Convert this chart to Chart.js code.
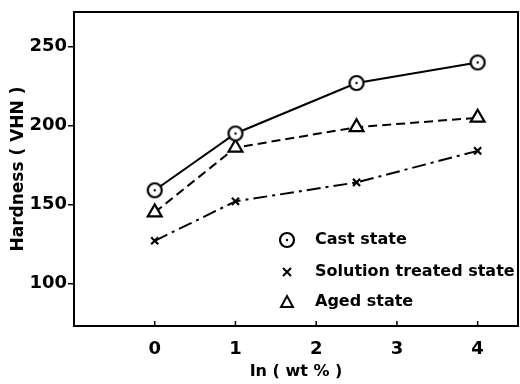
<!DOCTYPE html>
<html>
<head>
<meta charset="utf-8">
<script src="https://cdn.jsdelivr.net/npm/chart.js@4.4.1/dist/chart.umd.min.js"></script>
<style>
  html, body { margin: 0; padding: 0; background: #fff; overflow: hidden; }
  #wrap { width: 520px; height: 384px; }
</style>
</head>
<body>
<div id="wrap"><canvas id="grafico" width="520" height="384"></canvas></div>
<script>
// dados
const teorIn = [0, 1, 2.5, 4];
const castState = [159, 195, 227, 240];
const solutionState = [127, 152, 164, 184];
const agedState = [145, 186, 199, 205];
const ticksX = [0, 1, 2, 3, 4];
const ticksY = [100, 150, 200, 250];
const nomes = ['Cast state', 'Solution treated state', 'Aged state'];

const fonte = "'DejaVu Sans', sans-serif";

// circulo com ponto no centro
function circuloPonto() {
    const c = document.createElement('canvas');
    c.width = 18; c.height = 18;
    const g = c.getContext('2d');
    g.strokeStyle = '#000';
    g.lineWidth = 2.2;
    g.fillStyle = '#fff';
    g.beginPath(); g.arc(9, 9, 7, 0, Math.PI * 2); g.fill(); g.stroke();
    g.fillStyle = '#000';
    g.beginPath(); g.arc(9, 9, 1.2, 0, Math.PI * 2); g.fill();
    return c;
}
const marcaCirculo = circuloPonto();

function pares(ys) {
    return teorIn.map((x, i) => ({ x: x, y: ys[i] }));
}

// moldura + ticks para dentro no eixo x
const moldura = {
    id: 'moldura',
    afterDraw(chart) {
        const { ctx, chartArea: a, scales } = chart;
        ctx.save();
        ctx.strokeStyle = '#000';
        ctx.lineWidth = 2;
        ctx.strokeRect(a.left, a.top, a.right - a.left, a.bottom - a.top);
        ctx.lineWidth = 1.5;
        ticksX.forEach(v => {
            const px = scales.x.getPixelForValue(v);
            ctx.beginPath(); ctx.moveTo(px, a.bottom); ctx.lineTo(px, a.bottom - 5); ctx.stroke();
        });
        ctx.restore();
    }
};

// legenda dentro do grafico
const legenda = {
    id: 'legenda',
    afterDraw(chart) {
        const { ctx, chartArea: a } = chart;
        const xm = a.left + 213, xt = a.left + 241;
        const linhas = [a.top + 228, a.top + 260, a.top + 290];
        ctx.save();
        ctx.font = "bold 16px " + fonte;
        ctx.textBaseline = 'middle';
        chart.data.datasets.forEach((ds, i) => {
            const y = linhas[i];
            ctx.strokeStyle = '#000';
            ctx.fillStyle = '#000';
            if (i === 0) {
                ctx.drawImage(marcaCirculo, xm - 9, y - 9);
            } else if (i === 1) {
                ctx.lineWidth = 2;
                ctx.beginPath();
                ctx.moveTo(xm - 4, y - 4); ctx.lineTo(xm + 4, y + 4);
                ctx.moveTo(xm + 4, y - 4); ctx.lineTo(xm - 4, y + 4);
                ctx.stroke();
            } else {
                ctx.lineWidth = 2;
                ctx.beginPath();
                ctx.moveTo(xm, y - 6); ctx.lineTo(xm + 6, y + 5); ctx.lineTo(xm - 6, y + 5); ctx.closePath();
                ctx.stroke();
            }
            ctx.fillStyle = '#000';
            ctx.fillText(ds.label, xt, y);
        });
        ctx.restore();
    }
};

new Chart(document.getElementById('grafico').getContext('2d'), {
    type: 'line',
    data: {
        datasets: [
            { label: nomes[0], data: pares(castState), borderColor: '#000', borderWidth: 2,
              pointStyle: marcaCirculo, pointRadius: 9, backgroundColor: '#fff' },
            { label: nomes[1], data: pares(solutionState), borderColor: '#000', borderWidth: 2,
              borderDash: [14, 5, 3, 5], pointStyle: 'crossRot', pointRadius: 5,
              pointBorderWidth: 2.2, backgroundColor: '#fff' },
            { label: nomes[2], data: pares(agedState), borderColor: '#000', borderWidth: 2,
              borderDash: [9, 5], pointStyle: 'triangle', pointRadius: 8,
              pointBorderWidth: 2.2, backgroundColor: '#fff' }
        ]
    },
    options: {
        responsive: false,
        animation: false,
        layout: { autoPadding: false, padding: { top: 12, right: 2, left: 0, bottom: 0 } },
        plugins: { legend: { display: false }, tooltip: { enabled: false } },
        scales: {
            x: {
                type: 'linear', min: -1, max: 4.5,
                afterBuildTicks: s => { s.ticks = ticksX.map(v => ({ value: v })); },
                afterFit: s => { s.height = 58; s.paddingRight = 0; s.paddingLeft = 0; },
                grid: { display: false },
                border: { display: false },
                ticks: { color: '#000', font: { family: fonte, size: 18, weight: 'bold' }, padding: 5 },
                title: { display: true, text: 'In ( wt % )', color: '#000',
                         font: { family: fonte, size: 16, weight: 'bold' }, padding: { top: 0, bottom: 3 } }
            },
            y: {
                type: 'linear', min: 73, max: 272,
                afterBuildTicks: s => { s.ticks = ticksY.map(v => ({ value: v })); },
                afterFit: s => { s.width = 74; },
                grid: { drawOnChartArea: false, tickLength: 6, color: '#000', lineWidth: 1.5 },
                border: { display: false },
                ticks: { color: '#000', font: { family: fonte, size: 18, weight: 'bold' }, padding: 1 },
                title: { display: true, text: 'Hardness ( VHN )', color: '#000',
                         font: { family: fonte, size: 17, weight: 'bold' }, padding: { top: 8, bottom: 0 } }
            }
        }
    },
    plugins: [moldura, legenda]
});
</script>
</body>
</html>
